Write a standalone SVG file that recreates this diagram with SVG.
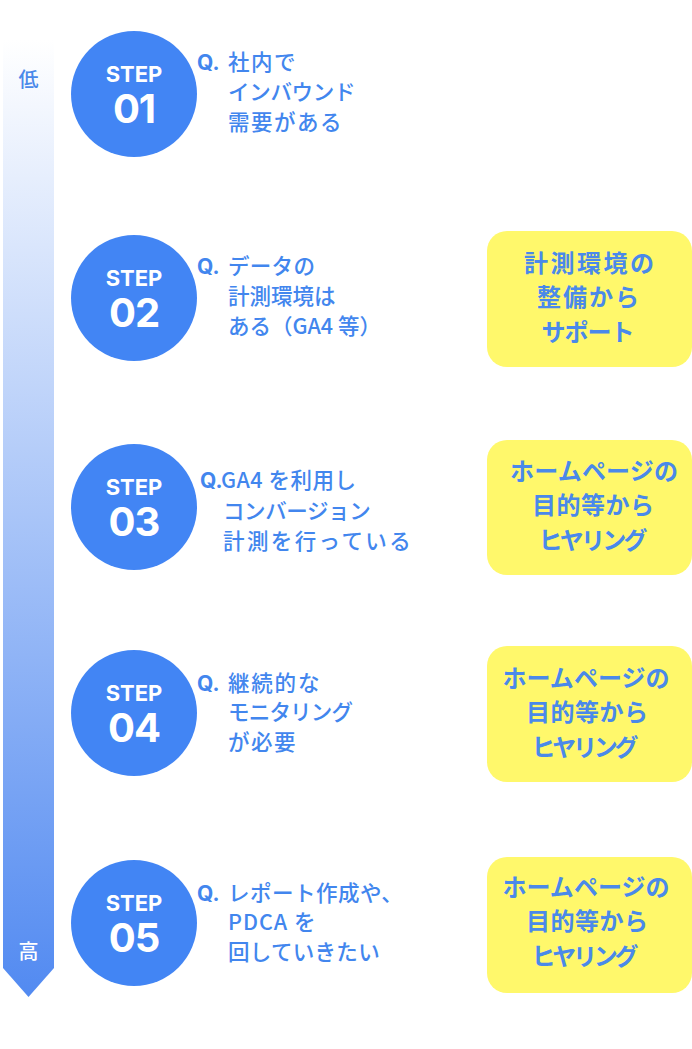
<svg xmlns="http://www.w3.org/2000/svg" width="692" height="1049" viewBox="0 0 692 1049">
<defs>
<linearGradient id="bar" x1="0" y1="40" x2="0" y2="997" gradientUnits="userSpaceOnUse">
<stop offset="0" stop-color="#ffffff"/>
<stop offset="1" stop-color="#528af1"/>
</linearGradient>
<style>
.circ{fill:#4285f4}
.step{font-family:Inter,"Liberation Sans",sans-serif;font-weight:700;fill:#ffffff;text-anchor:middle}
.s1{font-size:22px}
.s2{font-size:40px;letter-spacing:-1px}
.q{font-family:"Noto Sans CJK JP","Noto Sans",sans-serif;font-size:21.5px;font-weight:500;fill:#4286ee}
.qm{font-family:Inter,"Liberation Sans",sans-serif;font-size:21px;font-weight:700;fill:#4286ee}
.box{fill:#fff86b}
.bt{font-family:"Noto Sans CJK JP","Noto Sans",sans-serif;font-size:24px;font-weight:700;fill:#4a89ea;text-anchor:middle}
.lbl{font-family:"Noto Sans CJK JP",sans-serif;font-size:20px;font-weight:500;text-anchor:middle}
</style>
</defs>
<rect width="692" height="1049" fill="#ffffff"/>
<g id="scale">
<path d="M3,40 H54 V968 L28.5,997 L3,968 Z" fill="url(#bar)"/>
<text class="lbl" x="28.5" y="87" fill="#4a89ea">低</text>
<text class="lbl" x="28.5" y="959" fill="#ffffff">高</text>
</g>
<g id="connectors"></g>
<g id="step1">
<circle class="circ" cx="134" cy="94" r="63"/>
<text class="step s1" x="134" y="82">STEP</text>
<text class="step s2" x="134" y="123">01</text>
<text class="qm" x="197" y="70">Q.</text>
<text class="q" x="228" y="70" letter-spacing="1.5">社内で</text>
<text class="q" x="228" y="100" letter-spacing="-0.3">インバウンド</text>
<text class="q" x="228" y="130" letter-spacing="1.5">需要がある</text>
</g>
<g id="step2">
<circle class="circ" cx="134" cy="298" r="63"/>
<text class="step s1" x="134" y="286">STEP</text>
<text class="step s2" x="134" y="327">02</text>
<text class="qm" x="197" y="274">Q.</text>
<text class="q" x="228" y="274" letter-spacing="0.3">データの</text>
<text class="q" x="228" y="304">計測環境は</text>
<text class="q" x="228" y="334">ある（GA4 等）</text>
</g>
<g id="step3">
<circle class="circ" cx="134" cy="507" r="63"/>
<text class="step s1" x="134" y="495">STEP</text>
<text class="step s2" x="134" y="536">03</text>
<text class="qm" x="200" y="488">Q.</text>
<text class="q" x="221" y="488" letter-spacing="0.5">GA4 を利用し</text>
<text class="q" x="223" y="519" letter-spacing="-0.4">コンバージョン</text>
<text class="q" x="223" y="549" letter-spacing="2.4">計測を行っている</text>
</g>
<g id="step4">
<circle class="circ" cx="134" cy="713" r="63"/>
<text class="step s1" x="134" y="701">STEP</text>
<text class="step s2" x="134" y="742">04</text>
<text class="qm" x="197" y="691">Q.</text>
<text class="q" x="228" y="691" letter-spacing="1.8">継続的な</text>
<text class="q" x="228" y="720" letter-spacing="-0.8">モニタリング</text>
<text class="q" x="228" y="750" letter-spacing="1.5">が必要</text>
</g>
<g id="step5">
<circle class="circ" cx="134" cy="923" r="63"/>
<text class="step s1" x="134" y="911">STEP</text>
<text class="step s2" x="134" y="952">05</text>
<text class="qm" x="197" y="901">Q.</text>
<text class="q" x="228" y="901" letter-spacing="0.5">レポート作成や、</text>
<text class="q" x="228" y="930" letter-spacing="1">PDCA を</text>
<text class="q" x="228" y="960" letter-spacing="0.3">回していきたい</text>
</g>
<g id="box2">
<rect class="box" x="487" y="231" width="205" height="136" rx="20"/>
<text class="bt" x="589" y="272" textLength="130" lengthAdjust="spacing">計測環境の</text>
<text class="bt" x="588" y="306" textLength="102" lengthAdjust="spacing">整備から</text>
<text class="bt" x="588" y="341" textLength="93" lengthAdjust="spacing">サポート</text>
</g>
<g id="box3">
<rect class="box" x="487" y="440" width="205" height="135" rx="20"/>
<text class="bt" x="594" y="480" textLength="168" lengthAdjust="spacing">ホームページの</text>
<text class="bt" x="593" y="514" textLength="122" lengthAdjust="spacing">目的等から</text>
<text class="bt" x="593" y="549" textLength="109" lengthAdjust="spacing">ヒヤリング</text>
</g>
<g id="box4">
<rect class="box" x="487" y="646" width="205" height="136" rx="20"/>
<text class="bt" x="586" y="687" textLength="167" lengthAdjust="spacing">ホームページの</text>
<text class="bt" x="587" y="721" textLength="122" lengthAdjust="spacing">目的等から</text>
<text class="bt" x="585" y="756" textLength="107" lengthAdjust="spacing">ヒヤリング</text>
</g>
<g id="box5">
<rect class="box" x="487" y="857" width="205" height="136" rx="20"/>
<text class="bt" x="586" y="896" textLength="167" lengthAdjust="spacing">ホームページの</text>
<text class="bt" x="587" y="930" textLength="122" lengthAdjust="spacing">目的等から</text>
<text class="bt" x="585" y="965" textLength="107" lengthAdjust="spacing">ヒヤリング</text>
</g>
</svg>
